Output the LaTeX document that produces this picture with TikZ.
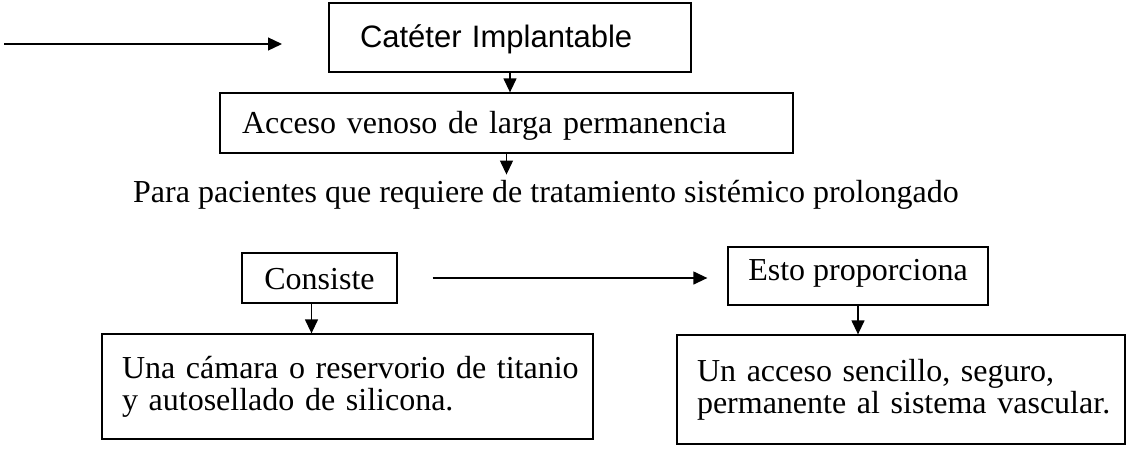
\documentclass[tikz,border=0pt]{standalone}
\usepackage{fontspec}
\setmainfont{Liberation Serif}
\newfontfamily\arialfont{Liberation Sans}
\usepackage{tikz}
\usetikzlibrary{arrows.meta}
\tikzset{caja/.style={draw, line width=1.3pt, rectangle, inner ysep=0pt, align=left,
  font=\fontsize{32}{32}\selectfont},
 unalinea/.style={text height=22pt, text depth=#1},
 flecha/.style={-{Triangle[length=14pt,width=13pt]}, line width=1.3pt},
 texto/.style={font=\fontsize{32}{32}\selectfont, inner sep=5pt},
}

\begin{document}
\begin{tikzpicture}[x=1pt, y=-1pt]
        \useasboundingbox (0,0) rectangle (1128,451);
        \node[caja, unalinea=3pt, font=\arialfont\fontsize{31}{31}\selectfont, inner xsep=31pt,
          text width=300pt, minimum height=69pt] (cat) at (510,37.5) {Catéter Implantable};
        \node[caja, unalinea=2pt, inner xsep=22pt, text width=529pt, minimum height=60pt]
          (acc) at (506.5,123) {Acceso venoso de larga permanencia};
        \node[texto, anchor=base west] (para) at (128,202)
          {Para pacientes que requiere de tratamiento sistémico prolongado};
        \node[caja, unalinea=-10pt, align=center, inner xsep=0pt, minimum width=155pt,
          minimum height=50pt] (cons) at (319.5,278) {Consiste};
        \node[caja, unalinea=14pt, align=center, inner xsep=0pt, minimum width=260pt,
          minimum height=58pt] (esto) at (858,276) {Esto proporciona};
        \node[caja, inner xsep=20pt, text width=451pt, minimum height=105pt] (izq) at (347.5,386.5)
          {\mbox{Una cámara o reservorio de titanio}\\\mbox{y autosellado de silicona.}};
        \node[caja, inner xsep=20pt, text width=408pt, minimum height=109pt] (der) at (901,389.5)
          {\mbox{Un acceso sencillo, seguro,}\\\mbox{permanente al sistema vascular.}};
        % flecha suelta de la izquierda
        \coordinate (inicio) at (4,44);
        \coordinate (fin) at (282,44);
        \draw[flecha] (inicio) -- (fin);
        \draw[flecha] (cat.south) -- (cat.south |- acc.north);
        \draw[flecha] (acc.south) -- (acc.south |- para.north);
        \draw[flecha, shorten <=35pt, shorten >=20pt] (cons.east) -- (cons.east -| esto.west);
        \draw[flecha] ([xshift=-8pt]cons.south) -- ([xshift=-8pt]cons.south |- izq.north);
        \draw[flecha] (esto.south) -- (esto.south |- der.north);
    \end{tikzpicture}
\end{document}
